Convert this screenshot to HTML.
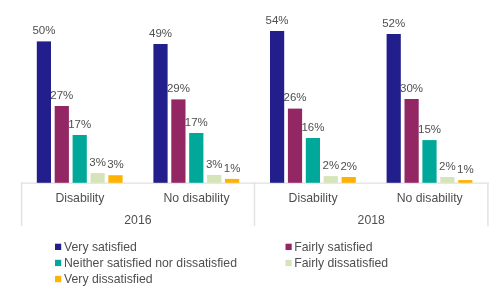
<!DOCTYPE html>
<html><head><meta charset="utf-8"><style>
html,body{margin:0;padding:0;background:#fff;width:500px;height:287px;overflow:hidden}
svg{display:block;filter:blur(0.4px)}
text{font-family:"Liberation Sans",sans-serif;font-size:12.25px;fill:#4f4f4f}
text.d{font-size:11.5px}
</style></head><body>
<svg width="500" height="287" viewBox="0 0 500 287">
<rect x="21" y="182.5" width="467.6" height="1.3" fill="#E2E2E2"/>
<rect x="20.90" y="182.5" width="1.4" height="43.7" fill="#E2E2E2"/>
<rect x="253.80" y="182.5" width="1.4" height="43.7" fill="#E2E2E2"/>
<rect x="487.20" y="182.5" width="1.4" height="43.7" fill="#E2E2E2"/>
<rect x="36.80" y="41.40" width="14.2" height="141.40" fill="#221E8C"/>
<rect x="54.70" y="106.00" width="14.2" height="76.80" fill="#922763"/>
<rect x="72.60" y="135.00" width="14.2" height="47.80" fill="#00A899"/>
<rect x="90.50" y="173.10" width="14.2" height="9.70" fill="#D6E4B9"/>
<rect x="108.40" y="175.20" width="14.2" height="7.60" fill="#FFB300"/>
<rect x="153.40" y="44.00" width="14.2" height="138.80" fill="#221E8C"/>
<rect x="171.30" y="99.40" width="14.2" height="83.40" fill="#922763"/>
<rect x="189.20" y="133.00" width="14.2" height="49.80" fill="#00A899"/>
<rect x="207.10" y="174.90" width="14.2" height="7.90" fill="#D6E4B9"/>
<rect x="225.00" y="178.90" width="14.2" height="3.90" fill="#FFB300"/>
<rect x="270.00" y="31.00" width="14.2" height="151.80" fill="#221E8C"/>
<rect x="287.90" y="108.60" width="14.2" height="74.20" fill="#922763"/>
<rect x="305.80" y="138.00" width="14.2" height="44.80" fill="#00A899"/>
<rect x="323.70" y="176.10" width="14.2" height="6.70" fill="#D6E4B9"/>
<rect x="341.60" y="177.00" width="14.2" height="5.80" fill="#FFB300"/>
<rect x="386.60" y="34.00" width="14.2" height="148.80" fill="#221E8C"/>
<rect x="404.50" y="99.00" width="14.2" height="83.80" fill="#922763"/>
<rect x="422.40" y="140.10" width="14.2" height="42.70" fill="#00A899"/>
<rect x="440.30" y="177.00" width="14.2" height="5.80" fill="#D6E4B9"/>
<rect x="458.20" y="180.10" width="14.2" height="2.70" fill="#FFB300"/>
<text class="d" x="43.90" y="34.10" text-anchor="middle">50%</text>
<text class="d" x="61.80" y="98.70" text-anchor="middle">27%</text>
<text class="d" x="79.70" y="127.70" text-anchor="middle">17%</text>
<text class="d" x="97.60" y="165.80" text-anchor="middle">3%</text>
<text class="d" x="115.50" y="167.90" text-anchor="middle">3%</text>
<text class="d" x="160.50" y="36.70" text-anchor="middle">49%</text>
<text class="d" x="178.40" y="92.10" text-anchor="middle">29%</text>
<text class="d" x="196.30" y="125.70" text-anchor="middle">17%</text>
<text class="d" x="214.20" y="167.60" text-anchor="middle">3%</text>
<text class="d" x="232.10" y="171.60" text-anchor="middle">1%</text>
<text class="d" x="277.10" y="23.70" text-anchor="middle">54%</text>
<text class="d" x="295.00" y="101.30" text-anchor="middle">26%</text>
<text class="d" x="312.90" y="130.70" text-anchor="middle">16%</text>
<text class="d" x="330.80" y="168.80" text-anchor="middle">2%</text>
<text class="d" x="348.70" y="169.70" text-anchor="middle">2%</text>
<text class="d" x="393.70" y="26.70" text-anchor="middle">52%</text>
<text class="d" x="411.60" y="91.70" text-anchor="middle">30%</text>
<text class="d" x="429.50" y="132.80" text-anchor="middle">15%</text>
<text class="d" x="447.40" y="169.70" text-anchor="middle">2%</text>
<text class="d" x="465.30" y="172.80" text-anchor="middle">1%</text>
<text x="79.90" y="201.8" text-anchor="middle">Disability</text>
<text x="196.50" y="201.8" text-anchor="middle">No disability</text>
<text x="313.10" y="201.8" text-anchor="middle">Disability</text>
<text x="429.70" y="201.8" text-anchor="middle">No disability</text>
<text x="137.9" y="223.6" text-anchor="middle">2016</text>
<text x="371.2" y="223.6" text-anchor="middle">2018</text>
<rect x="55" y="243.7" width="6.2" height="6.3" fill="#221E8C"/>
<text x="64.0" y="250.9">Very satisfied</text>
<rect x="285.5" y="243.7" width="6.2" height="6.3" fill="#922763"/>
<text x="294.2" y="250.9">Fairly satisfied</text>
<rect x="55" y="259.8" width="6.2" height="6.3" fill="#00A899"/>
<text x="64" y="266.9">Neither satisfied nor dissatisfied</text>
<rect x="285.5" y="259.8" width="6.2" height="6.3" fill="#D6E4B9"/>
<text x="294.2" y="266.9">Fairly dissatisfied</text>
<rect x="55" y="275.9" width="6.2" height="6.3" fill="#FFB300"/>
<text x="64.0" y="283.4">Very dissatisfied</text>
</svg>
</body></html>
